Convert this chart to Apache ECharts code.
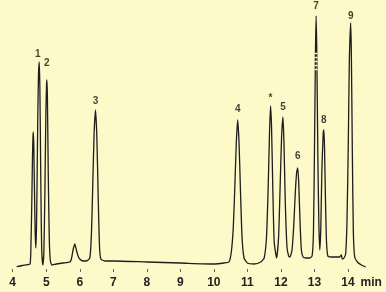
<!DOCTYPE html>
<html>
<head>
<meta charset="utf-8">
<script src="https://cdn.jsdelivr.net/npm/echarts@6/dist/echarts.min.js"></script>
<style>
html,body{margin:0;padding:0;background:#fdf9c9;}
#c{width:386px;height:292px;}
</style>
</head>
<body>
<div id="c"></div>
<script>
// Retention time (min) and detector signal
var times = [4.12,4.28,4.49,4.52,4.54,4.57,4.59,4.605,4.615,4.63,4.65,4.67,4.69,
  4.71,4.73,4.75,4.77,4.79,4.81,4.83,4.85,4.87,4.90,
  4.93,4.96,4.99,5.01,5.02,5.035,5.06,5.09,5.12,5.17,5.30,5.50,5.70,
  5.75,5.80,5.85,5.90,5.95,6.00,6.10,6.20,
  6.30,6.35,6.39,6.43,6.47,6.51,6.55,6.59,6.63,6.75,7.0,8.0,9.0,10.0,10.3,
  10.45,10.52,10.58,10.63,10.67,10.71,10.75,10.79,10.84,10.90,11.0,11.2,11.4,
  11.50,11.57,11.62,11.66,11.69,11.72,11.76,11.80,11.87,
  11.93,11.98,12.02,12.06,12.09,12.13,12.18,12.23,12.27,
  12.33,12.38,12.43,12.47,12.50,12.53,12.57,12.61,12.66,12.75,12.85,
  12.93,12.97,13.00,13.03,13.05,13.07,13.10,13.13,13.16,
  13.19,13.22,13.26,13.28,13.30,13.33,13.36,13.40,13.50,13.60,
  13.75,13.80,13.83,13.88,13.93,13.97,14.01,14.04,14.08,14.10,14.13,14.16,14.20,14.28,14.40,14.53];
var signal = [5.3,6.5,7.7,8,20,70,115,135,140,125,80,40,24,
  45,100,160,198,210,185,120,55,18,7,
  20,80,160,188,192,175,100,35,12,7,8,9,10,
  13,22,28,22,16,13,11,11,
  14,40,90,140,162,135,75,25,13,11,11,10,9,8,9,
  10,20,45,90,130,152,130,85,35,14,9,8,10,
  14,35,85,140,166,145,80,30,14,
  35,90,135,155,130,70,25,16,15,
  22,45,80,100,104,90,50,22,15,14,14,
  16,40,120,220,256,220,120,50,22,
  45,100,138,142,125,70,30,16,15,15,
  15,17,13,14,18,50,130,210,249,220,120,40,15,10,7,5];

// Peak labels
var peakNames = ['1','2','3','4','*','5','6','7','8','9'];
var peakTimes = [4.75,5.02,6.47,10.71,11.69,12.06,12.50,13.05,13.28,14.08];
var labelLevels = [218,209,171,163,174,165,116,266,152,256];

// Off-scale break marks on peak 7
var breakLevels = [219,215,211,207,203];

// Axis tick labels
var tickValues = [4,5,6,7,8,9,10,11,12,13,14];

var lineData = times.map(function(t,i){return [t, signal[i]];});
var labelData = peakNames.map(function(n,i){return {name:n, value:[peakTimes[i], labelLevels[i]]};});
var breakLines = breakLevels.map(function(v){return [{coord:[13.005,v]},{coord:[13.095,v]}];});

var chart = echarts.init(document.getElementById('c'), null, {renderer:'canvas'});
chart.setOption({
  animation:false,
  backgroundColor:'#fdf9c9',
  grid:{left:12.7, right:17.9, top:0, bottom:20, containLabel:false, outerBoundsMode:'none'},
  xAxis:{
    type:'value', min:4, max:14.6, interval:1,
    name:'min', nameLocation:'end', nameGap:-8,
    nameTextStyle:{color:'#222', fontFamily:'Liberation Sans', fontSize:12, fontWeight:'bold', verticalAlign:'top', align:'left', padding:[5,0,0,0]},
    axisLine:{show:false},
    splitLine:{show:false},
    axisTick:{show:true, inside:true, length:3, customValues:tickValues, lineStyle:{color:'#666', width:1}},
    axisLabel:{show:true, customValues:tickValues, margin:5, color:'#222', fontFamily:'Liberation Sans', fontSize:12, fontWeight:'bold'}
  },
  yAxis:{type:'value', min:0, max:272, show:false},
  series:[
    {
      type:'line', data:lineData, showSymbol:false, symbol:'none', smooth:0.2, clip:false,
      lineStyle:{color:'#1e1e1e', width:1.3},
      markLine:{silent:true, symbol:['none','none'], label:{show:false},
        lineStyle:{color:'#fdf9c9', width:1.4, type:'solid'}, data:breakLines}
    },
    {
      type:'scatter', data:labelData, symbolSize:0, clip:false, silent:true,
      label:{show:true, position:'inside', formatter:'{b}', color:'#111', fontFamily:'Liberation Sans', fontSize:10, fontWeight:'bold'}
    }
  ]
});
</script>
</body>
</html>
